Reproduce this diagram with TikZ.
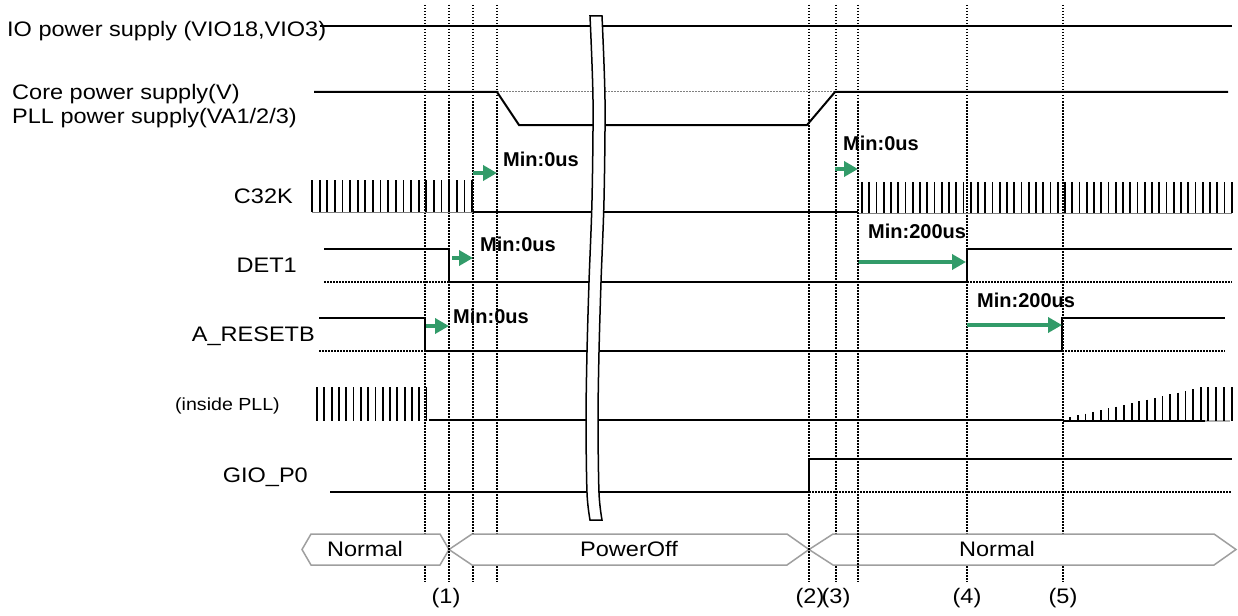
\documentclass[tikz,border=0pt]{standalone}
\usepackage{fontspec}
\setmainfont{Liberation Sans}
\newfontfamily\labfont{Liberation Sans}[FakeStretch=1.12]
\usetikzlibrary{arrows.meta}
\definecolor{grn}{RGB}{50,155,105}
\begin{document}
\begin{tikzpicture}[x=1pt,y=-1pt,
  wire/.style={line width=2pt,line join=miter},
  guide/.style={line width=1.2pt,dash pattern=on 1.5pt off 1.5pt},
  baseln/.style={line width=1.2pt,dash pattern=on 1.5pt off 1.5pt},
  bar/.style={line width=1.8pt},
  tarrow/.style={grn,line width=3.5pt,-{Triangle[length=14pt,width=15pt]}},
  minlab/.style={font=\fontsize{20}{24}\selectfont\bfseries,anchor=base west,inner sep=0},
  siglab/.style={font={\labfont\fontsize{21}{25}\selectfont},inner sep=0},
  statebox/.style={draw=gray!75,line width=1.5pt,fill=white}]
\useasboundingbox (0,0) rectangle (1238,615);
% guide lines
\foreach \gx in {425,449,473,497,809,836,967,1063}
  \draw[guide] (\gx,5) -- (\gx,582);
% labels
\node[siglab,anchor=base west] (lio) at (7,37) {IO power supply (VIO18,VIO3)};
\node[siglab,anchor=base west] (lcore) at (12,100) {Core power supply(V)};
\node[siglab,anchor=base west] (lpll) at (12,123) {PLL power supply(VA1/2/3)};
\node[siglab,anchor=base east] (lc32) at (293,203.5) {C32K};
\node[siglab,anchor=base east] (ldet) at (297,272.5) {DET1};
\node[siglab,anchor=base east] (lrst) at (315,341.5) {A\_RESETB};
\node[inner sep=0,anchor=base east,font={\labfont\fontsize{17.5}{21}\selectfont}] (linpll) at (280,410) {(inside PLL)};
\node[siglab,anchor=base east] (lgio) at (308,482.5) {GIO\_P0};
% IO
\draw[wire] (320,25.7) -- (1232,25.7);
% Core
\draw[gray,line width=1pt,dash pattern=on 1.5pt off 1.5pt] (497,92) -- (835,92);
\draw[wire] (314,92) -- (497,92) -- (519,125) -- (807,125) -- (835,92) -- (1228,92);
% C32K
\draw[gray,line width=1pt] (312,212) -- (473,212);
\foreach \i in {0,...,21} \draw[bar] ({312+7.62*\i},180) -- ({312+7.62*\i},212);
\draw[wire] (473,212) -- (858,212);
\draw[gray,line width=1pt] (858,213) -- (1232,213);
\foreach \i in {0,...,51} \draw[bar] ({862+7.25*\i},182) -- ({862+7.25*\i},213);
% DET1
\draw[baseln] (324,282) -- (449,282);
\draw[baseln] (967,282) -- (1232,282);
\draw[wire] (324,249) -- (449,249) -- (449,282) -- (967,282) -- (967,249) -- (1232,249);
% A_RESETB
\draw[baseln] (319,351) -- (425,351);
\draw[baseln] (1062,351) -- (1225,351);
\draw[wire] (319,318) -- (425,318) -- (425,351) -- (1062,351) -- (1062,318) -- (1225,318);
% inside PLL
\foreach \i in {0,...,15} \draw[bar] ({317+7.3*\i},387) -- ({317+7.3*\i},421);
\draw[wire] (429,420) -- (1063,420);
\draw[line width=1.5pt] (1063,421) -- (1205,421);
\draw[gray!60,line width=1.5pt] (1205,421) -- (1230,421);
\foreach \i in {0,...,17} \draw[bar] ({1070+7.7*\i},{419-1.76*(\i+1)}) -- ({1070+7.7*\i},421);
\foreach \i in {0,...,3} \draw[bar] ({1208+8*\i},387) -- ({1208+8*\i},421);
% GIO_P0
\draw[baseln] (809,492) -- (1232,492);
\draw[wire] (330,492) -- (809,492) -- (809,459) -- (1232,459);
% timing arrows
\draw[tarrow] (473,173) -- (497,173);
\draw[tarrow] (452,258) -- (473,258);
\draw[tarrow] (426,326) -- (449,326);
\draw[tarrow] (835,169) -- (858,169);
\draw[tarrow] (858,262) -- (966,262);
\draw[tarrow] (967,325) -- (1062,325);
\node[minlab] (m1) at (503,166) {Min:0us};
\node[minlab] (m2) at (480,251.5) {Min:0us};
\node[minlab] (m3) at (453,323.5) {Min:0us};
\node[minlab] (m4) at (843,150.5) {Min:0us};
\node[minlab] (m5) at (868,238) {Min:200us};
\node[minlab] (m6) at (977,307) {Min:200us};
% break symbol
\filldraw[fill=white,line width=1.5pt]
  plot[smooth] coordinates {(590,16) (593,100) (592,200) (589,282) (587,352) (586,420) (587,493) (590,520)}
  -- plot[smooth] coordinates {(602,520) (599,493) (598,420) (599,352) (601,282) (604,200) (605,100) (602,16)}
  -- cycle;
% states
\draw[statebox] (302,549.5) -- (311,534) -- (440,534) -- (449,549.5) -- (440,565) -- (311,565) -- cycle;
\draw[statebox] (449,549.5) -- (472,534) -- (787,534) -- (809,549.5) -- (787,565) -- (472,565) -- cycle;
\draw[statebox] (809,549.5) -- (833,534) -- (1214,534) -- (1236,549.5) -- (1214,565) -- (833,565) -- cycle;
\draw[guide] (858,5) -- (858,582);
\draw[guide] (449,545) -- (449,582);
\draw[guide] (809,545) -- (809,582);
\node[siglab,anchor=base] (s1) at (365,556.5) {Normal};
\node[siglab,anchor=base] (s2) at (629,556.5) {PowerOff};
\node[siglab,anchor=base] (s3) at (997,556.5) {Normal};
% bottom labels
\node[siglab,anchor=base] (t1) at (446,603.5) {(1)};
\node[siglab,anchor=base] (t2) at (810,603.5) {(2)};
\node[siglab,anchor=base] (t3) at (836,603.5) {(3)};
\node[siglab,anchor=base] (t4) at (967,603.5) {(4)};
\node[siglab,anchor=base] (t5) at (1063,603.5) {(5)};
\end{tikzpicture}
\end{document}
